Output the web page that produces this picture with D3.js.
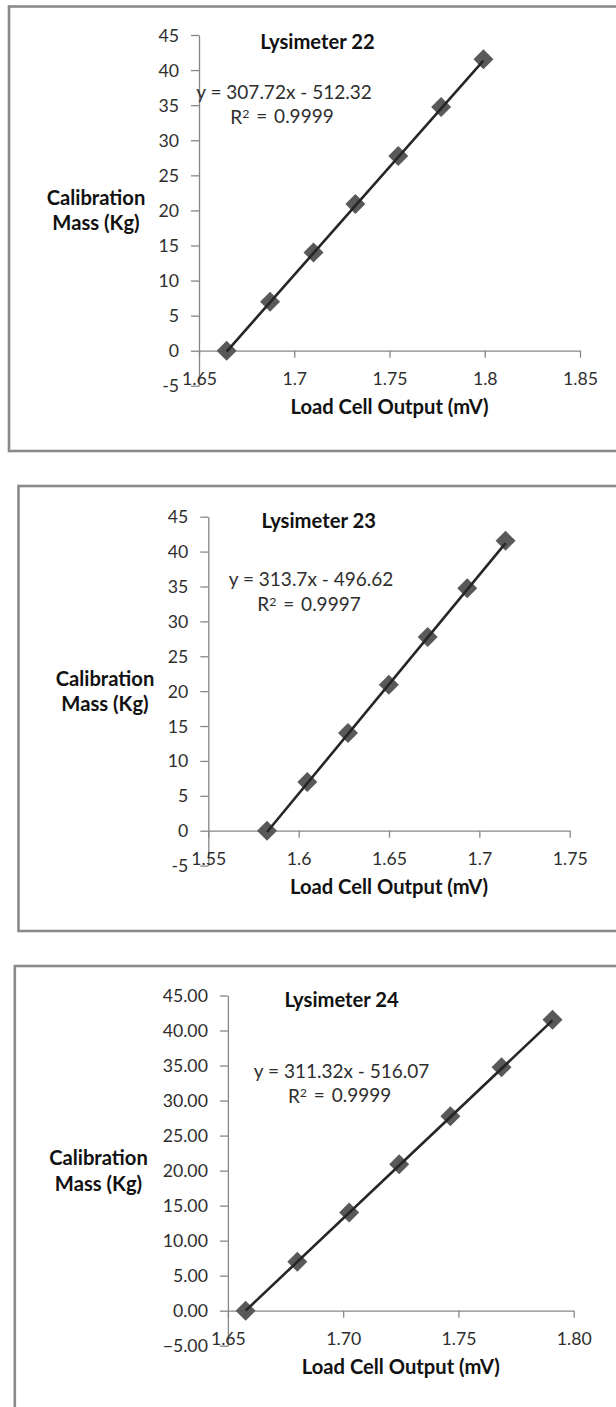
<!DOCTYPE html>
<html>
<head>
<meta charset="utf-8">
<script src="https://cdn.jsdelivr.net/npm/d3@7"></script>
<style>
  html, body { margin: 0; padding: 0; background: #fff; }
  svg { display: block; }
</style>
</head>
<body>
<script>
// Calibration masses placed on each lysimeter (kg)
const calibrationMass = [0, 6.97, 14.0, 20.9, 27.75, 34.75, 41.55];

// Load cell output recorded at each load step (mV)
const outputLys22 = [1.6645, 1.6873, 1.7101, 1.7321, 1.7546, 1.7771, 1.7993];
const outputLys23 = [1.5825, 1.6048, 1.6273, 1.6499, 1.6714, 1.6933, 1.7145];
const outputLys24 = [1.6577, 1.6801, 1.7026, 1.7243, 1.7465, 1.7687, 1.7908];

// Linear fits reported on each chart
const fitSlope = [307.72, 313.7, 311.32];
const fitIntercept = [-512.32, -496.62, -516.07];
const fitR2 = ["0.9999", "0.9997", "0.9999"];

const chartTitles = ["Lysimeter 22", "Lysimeter 23", "Lysimeter 24"];

// Axis ticks
const massTicks = [-5, 0, 5, 10, 15, 20, 25, 30, 35, 40, 45];
const xTicks22 = [1.65, 1.7, 1.75, 1.8, 1.85];
const xTicks23 = [1.55, 1.6, 1.65, 1.7, 1.75];
const xTicks24 = [1.65, 1.70, 1.75, 1.80];

const W = 616, H = 1407;
const FONT = "Lato, 'Open Sans', sans-serif";
const TICK_SIZE = 17.7, LABEL_SIZE = 19, TITLE_SIZE = 20.2;

const svg = d3.select("body").append("svg")
  .attr("width", W).attr("height", H)
  .attr("viewBox", `0 0 ${W} ${H}`);
svg.append("rect").attr("width", W).attr("height", H).attr("fill", "#fff");

const plain = v => String(+v.toFixed(2));
const twoDp = d3.format(".2f");

// Layout for each of the three stacked charts
const panels = [
  {
    output: outputLys22, xTicks: xTicks22, xFmt: plain, yFmt: plain,
    frame: { x: 9, y: 6.5, h: 444.5 },
    xRange: [199, 580], yRange: [385.8, 35],
    titlePos: [317.5, 42], eqPos: [284, 92], yTitleX: 96
  },
  {
    output: outputLys23, xTicks: xTicks23, xFmt: plain, yFmt: plain,
    frame: { x: 18.5, y: 486, h: 445 },
    xRange: [208.3, 569.7], yRange: [865.6, 516.7],
    titlePos: [318.7, 521], eqPos: [311, 579.5], yTitleX: 105
  },
  {
    output: outputLys24, xTicks: xTicks24, xFmt: twoDp, yFmt: twoDp,
    frame: { x: 14.8, y: 966, h: 460 },
    xRange: [227.9, 573.7], yRange: [1345.7, 995.5],
    titlePos: [341.6, 1000], eqPos: [341.6, 1071], yTitleX: 98.5
  }
];

// Square diamond marker
const squareDiamond = {
  draw(ctx, size) {
    const r = Math.sqrt(size / 2);
    ctx.moveTo(0, -r); ctx.lineTo(r, 0); ctx.lineTo(0, r); ctx.lineTo(-r, 0);
    ctx.closePath();
  }
};
const marker = d3.symbol().type(squareDiamond).size(2 * 10 * 10);

panels.forEach((p, i) => {
  const g = svg.append("g");

  // chart area border
  g.append("rect")
    .attr("x", p.frame.x).attr("y", p.frame.y)
    .attr("width", W + 40).attr("height", p.frame.h)
    .attr("fill", "none").attr("stroke", "#8a8a8a").attr("stroke-width", 2.6);

  const x = d3.scaleLinear()
    .domain([p.xTicks[0], p.xTicks[p.xTicks.length - 1]])
    .range(p.xRange);
  const y = d3.scaleLinear().domain([-5, 45]).range(p.yRange);

  // vertical (mass) axis
  const yAxis = g.append("g")
    .attr("transform", `translate(${p.xRange[0]},0)`)
    .call(d3.axisLeft(y).tickValues(massTicks).tickFormat(p.yFmt)
      .tickSize(8).tickSizeOuter(0).tickPadding(12));

  // horizontal (output) axis crossing at zero mass
  const xAxis = g.append("g")
    .attr("transform", `translate(0,${y(0)})`)
    .call(d3.axisBottom(x).tickValues(p.xTicks).tickFormat(p.xFmt)
      .tickSize(7).tickSizeOuter(0).tickPadding(15));

  [yAxis, xAxis].forEach(a => {
    a.attr("font-family", FONT).attr("font-size", TICK_SIZE);
    a.selectAll("path.domain, .tick line")
      .attr("stroke", "#878787").attr("stroke-width", 1.3);
    a.selectAll(".tick text").attr("fill", "#2e2e2e");
  });
  yAxis.selectAll(".tick text").attr("dy", "0.34em");

  // data markers
  const pts = p.output.map((v, k) => [v, calibrationMass[k]]);
  g.append("g").selectAll("path")
    .data(pts).join("path")
    .attr("d", marker)
    .attr("transform", d => `translate(${x(d[0])},${y(d[1])})`)
    .attr("fill", "#595959");

  // linear trendline across the measured range
  const x0 = d3.min(p.output), x1 = d3.max(p.output);
  const fit = v => fitSlope[i] * v + fitIntercept[i];
  g.append("line")
    .attr("x1", x(x0)).attr("y1", y(fit(x0)))
    .attr("x2", x(x1)).attr("y2", y(fit(x1)))
    .attr("stroke", "#262626").attr("stroke-width", 2.6);

  // chart title
  g.append("text")
    .attr("x", p.titlePos[0]).attr("y", p.titlePos[1])
    .attr("dy", "0.35em").attr("text-anchor", "middle")
    .attr("font-family", FONT).attr("font-size", TITLE_SIZE).attr("font-weight", 700)
    .attr("fill", "#111")
    .text(chartTitles[i]);

  // trendline equation and R²
  const eq = g.append("text")
    .attr("text-anchor", "middle")
    .attr("font-family", FONT).attr("font-size", LABEL_SIZE).attr("fill", "#2e2e2e");
  eq.append("tspan")
    .attr("x", p.eqPos[0]).attr("y", p.eqPos[1]).attr("dy", "0.35em")
    .text(`y = ${fitSlope[i]}x - ${Math.abs(fitIntercept[i])}`);
  const r2 = g.append("text")
    .attr("x", p.eqPos[0] - 2).attr("y", p.eqPos[1] + 25).attr("dy", "0.35em")
    .attr("text-anchor", "middle").attr("word-spacing", 2)
    .attr("font-family", FONT).attr("font-size", LABEL_SIZE).attr("fill", "#2e2e2e");
  r2.append("tspan").text("R");
  r2.append("tspan").attr("font-size", LABEL_SIZE * 0.65).attr("dy", "-0.45em").text("2");
  r2.append("tspan").attr("dy", "0.28em").text(` = ${fitR2[i]}`);

  // axis titles
  const yMid = (p.yRange[0] + p.yRange[1]) / 2;
  const yTitle = g.append("text")
    .attr("text-anchor", "middle")
    .attr("font-family", FONT).attr("font-size", TITLE_SIZE).attr("font-weight", 700)
    .attr("fill", "#111");
  yTitle.append("tspan").attr("x", p.yTitleX).attr("y", yMid - 12.5)
    .attr("dy", "0.35em").text("Calibration");
  yTitle.append("tspan").attr("x", p.yTitleX).attr("y", yMid + 13)
    .attr("dy", "0.35em").text("Mass (Kg)");

  g.append("text")
    .attr("x", (p.xRange[0] + p.xRange[1]) / 2).attr("y", y(0) + 56)
    .attr("dy", "0.35em").attr("text-anchor", "middle")
    .attr("font-family", FONT).attr("font-size", TITLE_SIZE).attr("font-weight", 700)
    .attr("fill", "#111")
    .text("Load Cell Output (mV)");
});
</script>
</body>
</html>
